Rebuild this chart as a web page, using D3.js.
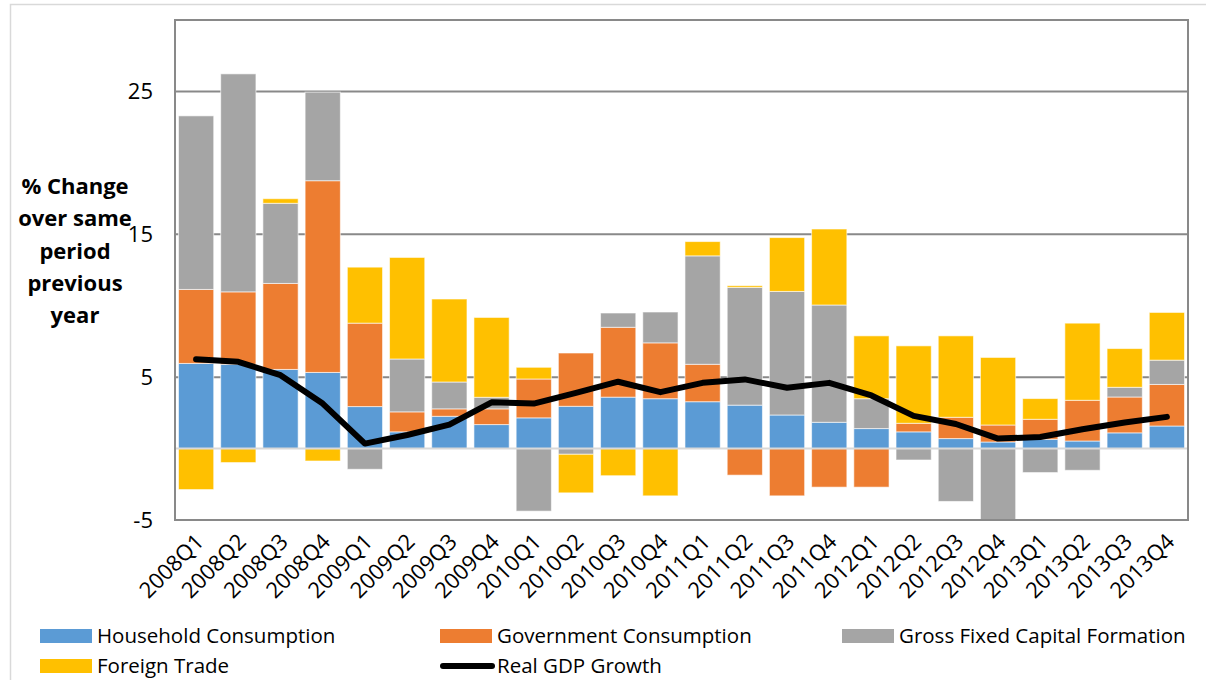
<!DOCTYPE html>
<html><head><meta charset="utf-8">
<script src="https://cdn.jsdelivr.net/npm/d3@7"></script>
<style>
html,body{margin:0;padding:0;background:#fff;}
svg{display:block;font-family:"Open Sans",sans-serif;}
</style></head>
<body>
<svg id="chart" width="1206" height="680"></svg>
<script>
const quarters = ["2008Q1","2008Q2","2008Q3","2008Q4","2009Q1","2009Q2","2009Q3","2009Q4",
  "2010Q1","2010Q2","2010Q3","2010Q4","2011Q1","2011Q2","2011Q3","2011Q4",
  "2012Q1","2012Q2","2012Q3","2012Q4","2013Q1","2013Q2","2013Q3","2013Q4"];
const household  = [5.96,5.90,5.54,5.33,2.94,1.17,2.26,1.68,2.15,2.96,3.60,3.49,3.28,3.04,2.35,1.84,1.40,1.17,0.70,0.46,0.65,0.53,1.10,1.58];
const government = [5.18,5.07,6.02,13.42,5.84,1.40,0.52,1.10,2.72,3.73,4.89,3.91,2.62,-1.86,-3.31,-2.70,-2.70,0.60,1.49,1.19,1.40,2.85,2.51,2.91];
const gfcf       = [12.15,15.26,5.61,6.20,-1.45,3.70,1.88,0.81,-4.38,-0.40,1.00,2.16,7.59,8.24,8.65,8.21,2.09,-0.80,-3.70,-5.00,-1.68,-1.52,0.68,1.70];
const foreign    = [-2.87,-0.98,0.32,-0.87,3.92,7.11,5.81,5.59,0.82,-2.70,-1.90,-3.31,1.00,0.12,3.77,5.32,4.40,5.42,5.70,4.73,1.45,5.40,2.71,3.34];
const gdpGrowth  = [6.25,6.07,5.14,3.15,0.35,0.95,1.68,3.24,3.15,3.90,4.68,3.95,4.60,4.84,4.26,4.60,3.72,2.29,1.72,0.70,0.81,1.35,1.82,2.22];
const yTicks = [-5,5,15,25];
const seriesNames = ["Household Consumption","Government Consumption","Gross Fixed Capital Formation","Foreign Trade"];
const seriesColors = ["#5B9BD5","#ED7D31","#A5A5A5","#FFC000"];
const lineName = "Real GDP Growth";
const yTitle = ["% Change","over same","period","previous","year"];

const svg = d3.select("#chart");
const L = 175, R = 1188, T = 20, B = 520;

// chart area border (light)
svg.append("path").attr("d","M10.5,680 V4.5 H1206").attr("fill","none").attr("stroke","#d9d9d9").attr("stroke-width",1.5);

const x = d3.scaleBand().domain(quarters).range([L,R]).paddingInner(0.165).paddingOuter(0.0825);
const y = d3.scaleLinear().domain([-5,30]).range([B,T]);

// gridlines
svg.append("g").selectAll("line").data(yTicks.filter(d=>d>-5)).join("line")
  .attr("x1",L).attr("x2",R).attr("y1",d=>y(d)).attr("y2",d=>y(d))
  .attr("stroke","#898989").attr("stroke-width",2);

// stacked data
const rows = quarters.map((q,i)=>({q, s0:household[i], s1:government[i], s2:gfcf[i], s3:foreign[i]}));
const stack = d3.stack().keys(["s0","s1","s2","s3"]).offset(d3.stackOffsetDiverging);
const stacked = stack(rows);

svg.append("g").selectAll("g").data(stacked).join("g")
  .attr("fill",(d,i)=>seriesColors[i])
  .selectAll("rect").data(d=>d).join("rect")
  .attr("x",d=>x(d.data.q)).attr("width",x.bandwidth())
  .attr("y",d=>y(Math.max(d[0],d[1]))).attr("height",d=>Math.abs(y(d[0])-y(d[1])))
  .attr("stroke","#fff").attr("stroke-opacity",0.6).attr("stroke-width",1);

// zero axis line
svg.append("line").attr("x1",L).attr("x2",R).attr("y1",y(0)).attr("y2",y(0))
  .attr("stroke","#d9d9d9").attr("stroke-width",2);

// plot border
svg.append("rect").attr("x",L).attr("y",T).attr("width",R-L).attr("height",B-T)
  .attr("fill","none").attr("stroke","#898989").attr("stroke-width",2);

// GDP line
const line = d3.line().x((d,i)=>x(quarters[i])+x.bandwidth()/2).y(d=>y(d));
svg.append("path").datum(gdpGrowth).attr("d",line).attr("fill","none")
  .attr("stroke","#000").attr("stroke-width",6).attr("stroke-linecap","round").attr("stroke-linejoin","round");

// y axis labels
const yAxis = d3.axisLeft(y).tickValues(yTicks).tickSize(0).tickPadding(0).tickFormat(d=>String(d));
const ya = svg.append("g").attr("transform",`translate(${153},0)`).call(yAxis);
ya.select(".domain").remove();
ya.selectAll("text").attr("font-family","'Open Sans',sans-serif").attr("font-size",22).attr("fill","#000");

// x axis labels
const xAxis = d3.axisBottom(x).tickSize(0).tickPadding(0);
const xa = svg.append("g").attr("transform",`translate(0,${B})`).call(xAxis);
xa.select(".domain").remove();
xa.selectAll("text").attr("font-family","'Open Sans',sans-serif").attr("font-size",22).attr("fill","#000")
  .attr("text-anchor","end").attr("dy",0)
  .attr("transform","translate(9,23) rotate(-45)");

// y title
svg.append("text").attr("x",75).attr("y",194).attr("text-anchor","middle")
  .attr("font-family","'Open Sans',sans-serif").attr("font-weight","bold").attr("font-size",22).attr("fill","#000")
  .selectAll("tspan").data(yTitle).join("tspan").attr("x",75).attr("dy",(d,i)=>i===0?0:32.3).text(d=>d);

// legend
const legendItems = [
  {name:seriesNames[0], color:seriesColors[0], type:"rect", x:40, y:636},
  {name:seriesNames[1], color:seriesColors[1], type:"rect", x:440, y:636},
  {name:seriesNames[2], color:seriesColors[2], type:"rect", x:842, y:636},
  {name:seriesNames[3], color:seriesColors[3], type:"rect", x:40, y:666},
  {name:lineName, color:"#000", type:"line", x:440, y:666}
];
const lg = svg.append("g").selectAll("g").data(legendItems).join("g")
  .attr("transform",d=>`translate(${d.x},${d.y})`);
lg.filter(d=>d.type==="rect").append("rect").attr("x",0).attr("y",-7).attr("width",52).attr("height",14).attr("fill",d=>d.color);
lg.filter(d=>d.type==="line").append("line").attr("x1",3).attr("x2",52).attr("y1",0).attr("y2",0)
  .attr("stroke","#000").attr("stroke-width",6).attr("stroke-linecap","round");
lg.append("text").attr("x",57).attr("y",0).attr("dy","0.36em").attr("font-size",20.5).attr("fill","#000").text(d=>d.name);
</script>
</body></html>
